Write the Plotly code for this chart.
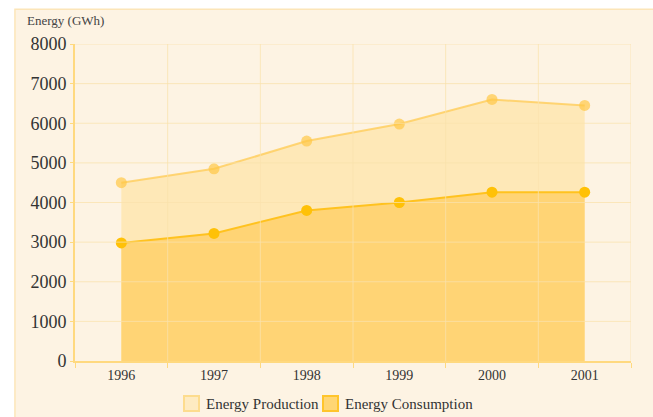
import plotly.graph_objects as go

# Annual energy figures (GWh)
years = ["1996", "1997", "1998", "1999", "2000", "2001"]
production = [4500, 4850, 5550, 5980, 6600, 6450]
consumption = [2980, 3220, 3800, 4000, 4260, 4260]
y_ticks = [0, 1000, 2000, 3000, 4000, 5000, 6000, 7000, 8000]

FONT = "Liberation Serif"
PANEL = "#FDF3E3"
GRID = "rgba(250,225,172,0.75)"
AXIS = "#FFD97F"

# plot area in pixels, used to place legend items in paper units
L, R, T, B = 75, 631, 44, 361


def px_x(p):
    return (p - L) / (R - L)


def px_y(p):
    return (B - p) / (B - T)


fig = go.Figure()

# Production area (light) drawn first, consumption area layered on top
fig.add_trace(go.Scatter(
    x=years, y=production, name="Energy Production",
    mode="lines+markers", fill="tozeroy",
    fillcolor="rgba(255,222,140,0.5)",
    line=dict(color="rgba(255,205,90,0.8)", width=2),
    marker=dict(color="rgba(255,200,70,0.7)", size=11),
    showlegend=False,
))
fig.add_trace(go.Scatter(
    x=years, y=consumption, name="Energy Consumption",
    mode="lines+markers", fill="tozeroy",
    fillcolor="rgba(255,205,95,0.75)",
    line=dict(color="#FFC21F", width=2),
    marker=dict(color="#FFC107", size=11),
    showlegend=False,
))

shapes = [dict(
    type="rect", xref="paper", yref="paper", layer="below",
    x0=-0.108, x1=1.1, y0=-0.25, y1=1.11,
    fillcolor=PANEL, line=dict(color="#FCE5B8", width=1.5),
)]

# Grid drawn over the filled areas: horizontal at every tick, vertical at
# category boundaries
for v in y_ticks[1:]:
    shapes.append(dict(
        type="line", xref="paper", yref="y", x0=0, x1=1, y0=v, y1=v,
        line=dict(color=GRID, width=1), layer="above",
    ))
for i in range(1, len(years) + 1):
    shapes.append(dict(
        type="line", xref="x", yref="paper", x0=i - 0.5, x1=i - 0.5, y0=0, y1=1,
        line=dict(color=GRID, width=1), layer="above",
    ))

annotations = [dict(
    text="Energy (GWh)", xref="paper", yref="paper",
    x=-0.09, y=1.045, xanchor="left", yanchor="bottom",
    showarrow=False, font=dict(family=FONT, size=13, color="#444444"),
)]

# Legend: square swatches with labels under the axis
legend_items = [
    ("Energy Production", 183, "#FEEBC2", "#FDDC8E"),
    ("Energy Consumption", 322, "#FFD674", "#FFC52C"),
]
for label, x0, fill, edge in legend_items:
    shapes.append(dict(
        type="rect", xref="paper", yref="paper",
        x0=px_x(x0 + 1), x1=px_x(x0 + 16), y0=px_y(411), y1=px_y(396),
        fillcolor=fill, line=dict(color=edge, width=2),
    ))
    annotations.append(dict(
        text=label, xref="paper", yref="paper",
        x=px_x(x0 + 21), y=px_y(403.5), xanchor="left", yanchor="middle",
        showarrow=False, font=dict(family=FONT, size=15, color="#333333"),
    ))

fig.update_layout(
    width=653, height=417,
    margin=dict(l=L, r=653 - R, t=T, b=417 - B, autoexpand=False),
    paper_bgcolor="white",
    plot_bgcolor="rgba(0,0,0,0)",
    font=dict(family=FONT, color="#333333"),
    showlegend=False,
    shapes=shapes,
    annotations=annotations,
)

fig.update_xaxes(
    type="category", range=[-0.5, 5.5],
    tickson="boundaries", ticks="outside", ticklen=5, tickcolor=AXIS,
    showgrid=False,
    showline=True, linecolor=AXIS, linewidth=2,
    tickfont=dict(family=FONT, size=14, color="#333333"),
    fixedrange=True,
)
fig.update_yaxes(
    range=[0, 8000], tickvals=y_ticks,
    ticks="outside", ticklen=3, tickcolor=AXIS,
    showgrid=False, zeroline=False,
    showline=True, linecolor=AXIS, linewidth=2,
    tickfont=dict(family=FONT, size=18, color="#333333"),
    fixedrange=True,
)

fig.write_html("out.html")
